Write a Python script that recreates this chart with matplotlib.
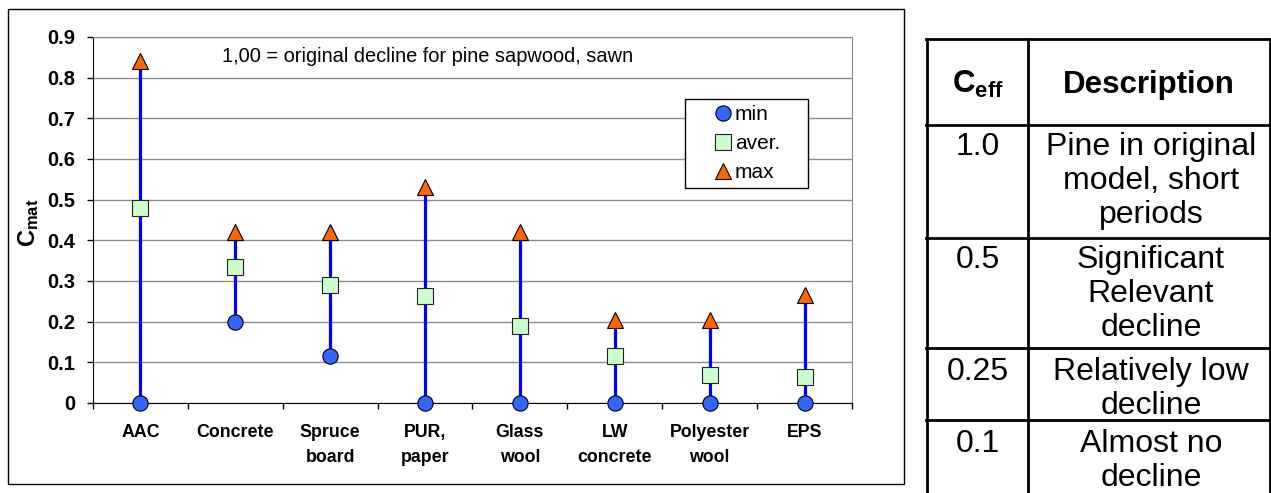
import matplotlib.pyplot as plt
import numpy as np
from matplotlib.patches import Rectangle

plt.rcParams['font.family'] = ['Liberation Sans', 'DejaVu Sans']
plt.rcParams['mathtext.fontset'] = 'custom'
plt.rcParams['mathtext.rm'] = 'Liberation Sans'
plt.rcParams['mathtext.bf'] = 'Liberation Sans:bold'

# chart data
materials = ['AAC', 'Concrete', 'Spruce\nboard', 'PUR,\npaper', 'Glass\nwool',
             'LW\nconcrete', 'Polyester\nwool', 'EPS']
c_min = [0, 0.2, 0.115, 0, 0, 0, 0, 0]
c_aver = [0.48, 0.335, 0.29, 0.262, 0.19, 0.115, 0.07, 0.065]
c_max = [0.84, 0.42, 0.42, 0.53, 0.42, 0.205, 0.205, 0.265]
y_ticks = [0, 0.1, 0.2, 0.3, 0.4, 0.5, 0.6, 0.7, 0.8, 0.9]
y_ticklabels = ['0', '0.1', '0.2', '0.3', '0.4', '0.5', '0.6', '0.7', '0.8', '0.9']

# table data
ceff_values = ['1.0', '0.5', '0.25', '0.1']
descriptions = [['Pine in original', 'model, short', 'periods'],
                ['Significant', 'Relevant', 'decline'],
                ['Relatively low', 'decline'],
                ['Almost no', 'decline']]

W, H = 1271, 493
fig = plt.figure(figsize=(W / 100, H / 100), dpi=100)

def fx(px):
    return px / W

def fy(py):
    return 1 - py / H

ax = fig.add_axes([fx(93), fy(403), fx(852) - fx(93), fy(37) - fy(403)])
x = np.arange(len(materials))

ax.vlines(x, c_min, c_max, color='#0000FF', lw=2.3, zorder=3)
ax.plot(x, c_min, 'o', ms=11, mfc='#3366FF', mec='black', mew=0.8, ls='none',
        label='min', zorder=4, clip_on=False)
ax.plot(x, c_aver, 's', ms=11, mfc='#CCFFCC', mec='#222222', mew=0.8, ls='none',
        label='aver.', zorder=4)
ax.plot(x, c_max, '^', ms=11.5, mfc='#FF6600', mec='black', mew=0.8, ls='none',
        label='max', zorder=4)

ax.set_xlim(-0.5, len(materials) - 0.5)
ax.set_ylim(0, 0.9)
ax.set_yticks(y_ticks)
ax.set_yticklabels(y_ticklabels, fontsize=14.5, fontweight='bold')
ax.yaxis.grid(True, color='#8c8c8c', lw=1)
ax.set_axisbelow(True)
ax.set_xticks(np.arange(-0.5, len(materials)))
ax.set_xticklabels([])
ax.set_xticks(x, minor=True)
ax.set_xticklabels(materials, minor=True, fontsize=12.8, fontweight='bold',
                   linespacing=1.65)
ax.tick_params(axis='x', which='minor', length=0, pad=15)
ax.tick_params(axis='x', which='major', length=4, width=1)
ax.tick_params(axis='y', length=4, width=1, pad=9)
for s in ['top', 'right']:
    ax.spines[s].set_color('#8c8c8c')

# legend box drawn separately
ax.add_patch(Rectangle((fx(685), fy(188)), fx(808) - fx(685), fy(99) - fy(188),
                       transform=fig.transFigure, facecolor='white',
                       edgecolor='black', lw=1, zorder=5))
leg = ax.legend(loc='upper left', bbox_to_anchor=(fx(713), fy(105)),
                bbox_transform=fig.transFigure, frameon=False, fontsize=15,
                borderpad=0, borderaxespad=0, handlelength=0.95,
                handletextpad=0.1, labelspacing=0.48)
leg.set_zorder(6)

# overlay in pixel coordinates for frame, labels and table
ov = fig.add_axes([0, 0, 1, 1])
ov.set_xlim(0, W)
ov.set_ylim(H, 0)
ov.axis('off')

ov.add_patch(Rectangle((8, 9), 896, 475, fill=False, ec='black', lw=1))
ov.text(29, 223, r'$\mathbf{C_{mat}}$', rotation=90, ha='center', va='center',
        fontsize=17)
ov.text(222, 57, '1,00 = original decline for pine sapwood, sawn', fontsize=14.4,
        ha='left', va='center')

# table
col_x = [927, 1028, 1270]
row_y = [39, 125, 238, 348, 420, 500]
for cx in col_x:
    ov.plot([cx, cx], [row_y[0] - 1, row_y[-1]], color='black', lw=2,
            solid_capstyle='butt')
for ry in row_y[:-1]:
    ov.plot([col_x[0] - 1, col_x[-1] + 1], [ry, ry], color='black', lw=2)

c1 = (col_x[0] + col_x[1]) / 2
c2 = (col_x[1] + col_x[2]) / 2 + 2
ov.text(c1, 93, r'$\mathbf{C_{eff}}$', ha='center', va='baseline', fontsize=22.5)
ov.text(c2 - 2, 93, 'Description', ha='center', va='baseline', fontsize=22.5,
        fontweight='bold')

first_baseline = [155, 268, 380, 452]
step = 34
for val, lines, b in zip(ceff_values, descriptions, first_baseline):
    ov.text(c1, b, val, ha='center', va='baseline', fontsize=23)
    for k, line in enumerate(lines):
        ov.text(c2, b + k * step, line, ha='center', va='baseline', fontsize=23)

fig.savefig('out.png', dpi=100)
